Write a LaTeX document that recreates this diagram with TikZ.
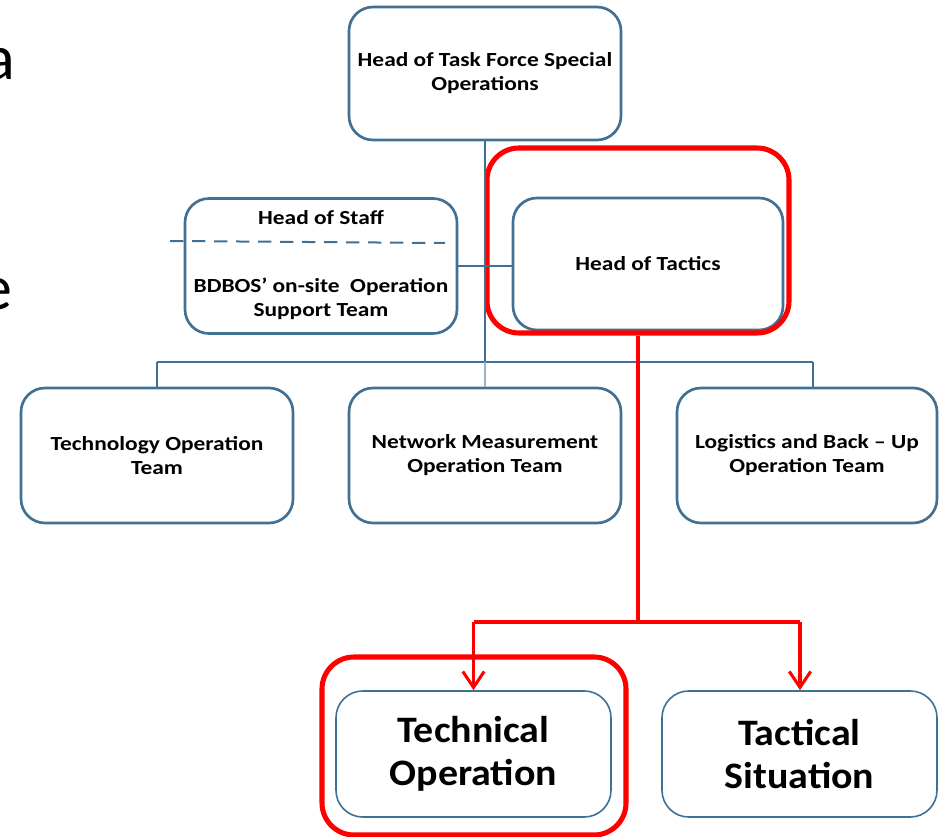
\documentclass[tikz,border=0pt]{standalone}
\usepackage{fontspec}
\setmainfont{Carlito}
\newfontfamily\smallf[FakeStretch=1.17,Ligatures=TeX]{Carlito}
\newfontfamily\bigf[FakeStretch=1.07,Ligatures=TeX]{Carlito}
\usetikzlibrary{arrows.meta}
\definecolor{orgblue}{RGB}{64,112,148}
\definecolor{lightline}{RGB}{160,178,192}
\definecolor{hired}{RGB}{255,0,0}
\tikzset{
  smalltext/.style={font=\smallf\bfseries\fontsize{15pt}{18pt}\selectfont},
  box/.style={draw=orgblue, line width=2pt, rounded corners=18pt, align=center,
    smalltext, inner sep=0pt},
  thinbox/.style={draw=orgblue, line width=1.2pt, rounded corners=20pt, align=center,
    font=\bigf\bfseries\fontsize{28pt}{32.5pt}\selectfont, inner sep=0pt},
  redframe/.style={draw=hired, line width=3.8pt, rounded corners=24pt, inner sep=0pt},
  conn/.style={draw=orgblue, line width=2pt},
  lightconn/.style={draw=lightline, line width=2pt},
  redconn/.style={draw=hired, line width=2.3pt},
  redarrow/.style={redconn, -{Straight Barb[length=12pt,width=16pt,line width=2.3pt]}},
  bigletter/.style={font=\fontsize{48pt}{56pt}\selectfont, inner sep=0pt, anchor=base east},
}
\begin{document}
\begin{tikzpicture}[x=0.75pt,y=-0.75pt]
\useasboundingbox (0,0) rectangle (939,837);
\clip (0,0) rectangle (939,837);
% cropped letters at left edge
\node[bigletter] (la) at (15,80) {a};
\node[bigletter] (le) at (13,310) {e};
% boxes
\node[box, minimum width=204pt, minimum height=99.75pt] (top) at (485,73.5) {Head of Task Force Special\\Operations};
\node[box, minimum width=204pt, minimum height=101.25pt] (staff) at (321,266) {};
\node[smalltext] (stafft) at (321,218) {Head of Staff};
\node[smalltext, align=center] (bdbos) at (321,299) {BDBOS’ on-site\ \ Operation\\Support Team};
\coordinate (dashL) at (170,241);
\coordinate (dashR) at (445,243);
\draw[conn, dash pattern=on 10pt off 6.5pt, line width=1.5pt] (dashL) -- (dashR);
\node[box, minimum width=202.5pt, minimum height=99pt] (tactics) at (648,264) {Head of Tactics};
\node[redframe, minimum width=226.5pt, minimum height=138.75pt] (redtac) at (638,240.5) {};
\node[box, minimum width=204pt, minimum height=101.25pt] (tech) at (157,455.5) {Technology Operation\\Team};
\node[box, minimum width=204pt, minimum height=101.25pt] (net) at (485,455.5) {Network Measurement\\Operation Team};
\node[box, minimum width=195pt, minimum height=101.25pt] (log) at (807,455.5) {Logistics and Back – Up\\Operation Team};
\node[thinbox, minimum width=206.25pt, minimum height=94.5pt] (techop) at (473.5,754) {Technical\\Operation};
\node[redframe, minimum width=228pt, minimum height=133.5pt] (redop) at (474,746) {};
\node[thinbox, minimum width=206.25pt, minimum height=94.5pt] (tactical) at (799.5,754) {Tactical\\Situation};
% blue connectors
\coordinate (bus) at (485,362);
\coordinate (busL) at (157,362);
\coordinate (busR) at (813,362);
\draw[conn] (top.south) -- (bus);
\draw[conn] (busL) -- (busR);
\draw[conn] (busL) -- (busL |- tech.north);
\draw[lightconn] (bus) -- (net.north);
\draw[conn] (busR) -- (busR |- log.north);
\draw[conn] (staff.east) -- (staff.east -| tactics.west);
% red connectors
\coordinate (rsplit) at (638,622);
\coordinate (rL) at (473.5,622);
\coordinate (rR) at (800,622);
\draw[redconn] (redtac.south -| rsplit) -- (rsplit);
\draw[redconn] (rL) -- (rR);
\draw[redarrow] (rL) -- (techop.north);
\draw[redarrow] (rR) -- (rR |- tactical.north);
\end{tikzpicture}
\end{document}
